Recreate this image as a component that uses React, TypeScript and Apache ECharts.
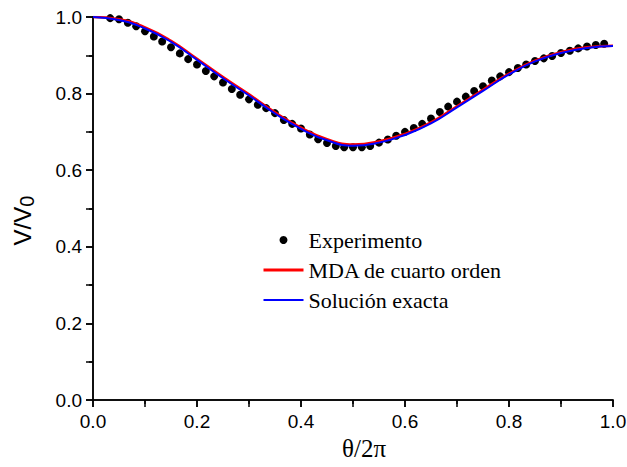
import React, { useEffect, useRef } from "react";
import * as echarts from "echarts";

const xTicks = [0, 0.2, 0.4, 0.6, 0.8, 1.0];
const yTicks = [0, 0.2, 0.4, 0.6, 0.8, 1.0];

const expTheta = [
  0.033, 0.05, 0.067, 0.083, 0.1, 0.117, 0.133, 0.15, 0.167, 0.183,
  0.2, 0.217, 0.233, 0.25, 0.267, 0.283, 0.3, 0.317, 0.333, 0.35,
  0.367, 0.383, 0.4, 0.417, 0.433, 0.45, 0.467, 0.483, 0.5, 0.517,
  0.533, 0.55, 0.567, 0.583, 0.6, 0.617, 0.633, 0.65, 0.667, 0.683,
  0.7, 0.717, 0.733, 0.75, 0.767, 0.783, 0.8, 0.817, 0.833, 0.85,
  0.867, 0.883, 0.9, 0.917, 0.933, 0.95, 0.967, 0.983,
];
const expValues = [
  0.997, 0.994, 0.985, 0.976, 0.963, 0.949, 0.936, 0.921, 0.905, 0.89,
  0.876, 0.859, 0.845, 0.829, 0.812, 0.797, 0.785, 0.771, 0.762, 0.749,
  0.731, 0.721, 0.709, 0.693, 0.681, 0.671, 0.663, 0.66, 0.66, 0.66,
  0.663, 0.672, 0.68, 0.69, 0.7, 0.71, 0.721, 0.735, 0.752, 0.766,
  0.779, 0.792, 0.807, 0.819, 0.834, 0.845, 0.856, 0.867, 0.876, 0.885,
  0.892, 0.898, 0.906, 0.912, 0.918, 0.923, 0.927, 0.93,
];

const curveTheta = [
  0, 0.05, 0.1, 0.15, 0.2, 0.25, 0.3, 0.35, 0.4, 0.45, 0.5,
  0.55, 0.6, 0.65, 0.7, 0.75, 0.8, 0.85, 0.9, 0.95, 1.0,
];
const mdaValues = [
  1.0, 0.994, 0.973, 0.938, 0.891, 0.843, 0.798, 0.751, 0.711, 0.681, 0.667,
  0.675, 0.695, 0.725, 0.767, 0.81, 0.852, 0.886, 0.908, 0.921, 0.925,
];
const exactValues = [
  1.0, 0.992, 0.97, 0.935, 0.888, 0.84, 0.795, 0.748, 0.708, 0.678, 0.664,
  0.672, 0.692, 0.722, 0.764, 0.807, 0.85, 0.884, 0.906, 0.919, 0.924,
];

const seriesNames = ["Experimento", "MDA de cuarto orden", "Solución exacta"];

const SANS = "'Liberation Sans', Arial, sans-serif";
const SERIF = "'Liberation Serif', 'Times New Roman', serif";

export default function App() {
  const ref = useRef<HTMLDivElement>(null);

  useEffect(() => {
    document.body.style.margin = "0";
    if (!ref.current) return;
    const chart = echarts.init(ref.current, undefined, { renderer: "svg" });

    const axisLine = { show: true, lineStyle: { color: "#000", width: 1.5 } };

    chart.setOption({
      animation: false,
      backgroundColor: "#fff",
      grid: {
        left: 93,
        right: 14,
        top: 17,
        bottom: 67,
        containLabel: false,
        outerBoundsMode: "none",
      },
      legend: {
        orient: "vertical",
        left: 262,
        top: 229,
        padding: 0,
        itemWidth: 40,
        itemHeight: 8,
        itemGap: 8,
        textStyle: { fontFamily: SERIF, fontSize: 22, color: "#000", lineHeight: 22 },
        data: [
          { name: seriesNames[0], icon: "circle", itemStyle: { color: "#000", opacity: 1 } },
          { name: seriesNames[1], itemStyle: { opacity: 0 }, lineStyle: { width: 3, color: "#ff0000" } },
          { name: seriesNames[2], itemStyle: { opacity: 0 }, lineStyle: { width: 2, color: "#0000ff" } },
        ],
      },
      xAxis: [
        {
          type: "value",
          position: "bottom",
          min: 0,
          max: 1,
          interval: 0.2,
          axisLine,
          axisTick: { show: true, inside: false, length: 7, lineStyle: { color: "#000", width: 1.5 } },
          minorTick: { show: true, splitNumber: 2, length: 4, lineStyle: { color: "#000", width: 1.5 } },
          splitLine: { show: false },
          axisLabel: {
            show: true,
            margin: 12,
            fontFamily: SANS,
            fontSize: 19,
            color: "#000",
            formatter: (v: number) => {
              const t = xTicks.find((k) => Math.abs(k - v) < 1e-6);
              return t === undefined ? "" : t.toFixed(1);
            },
          },
          name: "θ/2π",
          nameLocation: "middle",
          nameGap: 27,
          nameTextStyle: { fontFamily: SERIF, fontSize: 25, color: "#000", padding: [0, 0, 0, 22] },
        },
        {
          type: "value",
          position: "top",
          min: 0,
          max: 1,
          interval: 0.1,
          axisLine,
          axisTick: { show: true, inside: true, length: 7, lineStyle: { color: "#000", width: 1.5 } },
          axisLabel: { show: false },
          splitLine: { show: false },
        },
      ],
      yAxis: [
        {
          type: "value",
          position: "left",
          min: 0,
          max: 1,
          interval: 0.2,
          axisLine,
          axisTick: { show: true, inside: false, length: 7, lineStyle: { color: "#000", width: 1.5 } },
          minorTick: { show: true, splitNumber: 2, length: 4, lineStyle: { color: "#000", width: 1.5 } },
          splitLine: { show: false },
          axisLabel: {
            show: true,
            margin: 11,
            fontFamily: SANS,
            fontSize: 19,
            color: "#000",
            formatter: (v: number) => {
              const t = yTicks.find((k) => Math.abs(k - v) < 1e-6);
              return t === undefined ? "" : t.toFixed(1);
            },
          },
          name: "{a|V/V}{b|0}",
          nameLocation: "middle",
          nameRotate: 90,
          nameGap: 56,
          nameTextStyle: {
            color: "#000",
            padding: [0, 24, 0, 0],
            rich: {
              a: { fontFamily: SANS, fontSize: 24, color: "#000" },
              b: { fontFamily: SANS, fontSize: 20, color: "#000", padding: [10, 0, 0, 0] },
            },
          },
        },
        {
          type: "value",
          position: "right",
          min: 0,
          max: 1,
          interval: 0.1,
          axisLine,
          axisTick: { show: true, inside: true, length: 7, lineStyle: { color: "#000", width: 1.5 } },
          axisLabel: { show: false },
          splitLine: { show: false },
        },
      ],
      series: [
        {
          name: seriesNames[0],
          type: "scatter",
          xAxisIndex: 0,
          yAxisIndex: 0,
          symbol: "circle",
          symbolSize: 8,
          itemStyle: { color: "#000", opacity: 1 },
          data: expTheta.map((x, i) => [x, expValues[i]]),
        },
        {
          name: seriesNames[1],
          type: "line",
          xAxisIndex: 0,
          yAxisIndex: 0,
          smooth: true,
          symbol: "none",
          lineStyle: { color: "#ff0000", width: 2.5 },
          itemStyle: { color: "#ff0000" },
          data: curveTheta.map((x, i) => [x, mdaValues[i]]),
        },
        {
          name: seriesNames[2],
          type: "line",
          xAxisIndex: 0,
          yAxisIndex: 0,
          smooth: true,
          symbol: "none",
          lineStyle: { color: "#0000ff", width: 2 },
          itemStyle: { color: "#0000ff" },
          data: curveTheta.map((x, i) => [x, exactValues[i]]),
        },
      ],
    });

    return () => chart.dispose();
  }, []);

  return <div ref={ref} style={{ width: 627, height: 467 }} />;
}
